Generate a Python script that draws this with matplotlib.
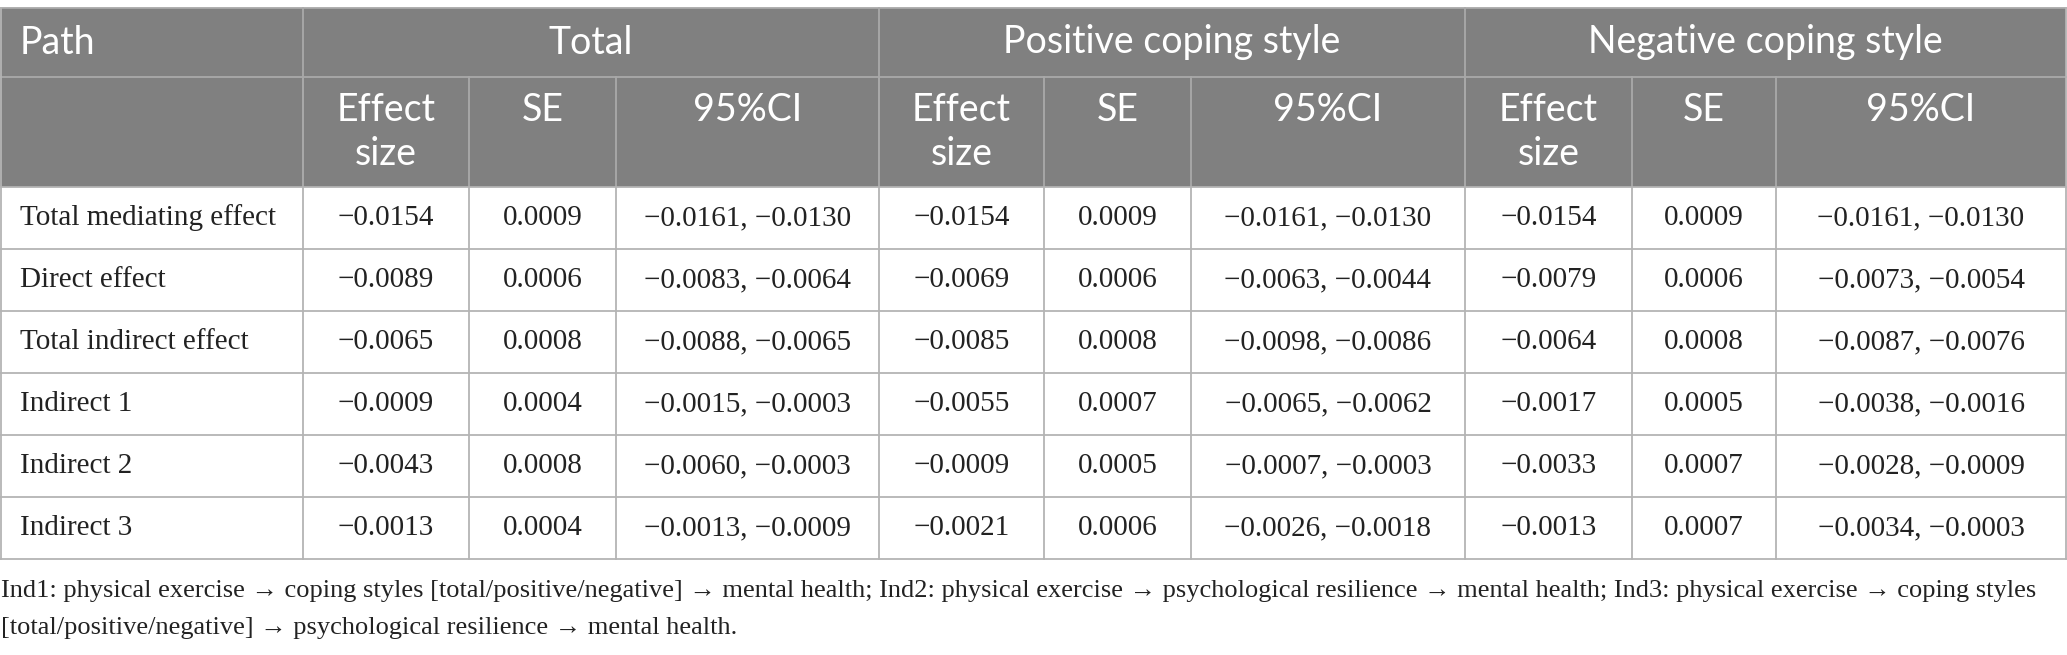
import matplotlib
matplotlib.use("Agg")
import matplotlib.pyplot as plt
from matplotlib.patches import Rectangle

# ---------------- data ----------------
row_labels = ["Total mediating effect", "Direct effect", "Total indirect effect",
              "Indirect 1", "Indirect 2", "Indirect 3"]
groups = ["Total", "Positive coping style", "Negative coping style"]
sub_headers = ["Effect\nsize", "SE", "95%CI"]

total_effect = [-0.0154, -0.0089, -0.0065, -0.0009, -0.0043, -0.0013]
total_se = [0.0009, 0.0006, 0.0008, 0.0004, 0.0008, 0.0004]
total_ci_low = [-0.0161, -0.0083, -0.0088, -0.0015, -0.0060, -0.0013]
total_ci_high = [-0.0130, -0.0064, -0.0065, -0.0003, -0.0003, -0.0009]

pos_effect = [-0.0154, -0.0069, -0.0085, -0.0055, -0.0009, -0.0021]
pos_se = [0.0009, 0.0006, 0.0008, 0.0007, 0.0005, 0.0006]
pos_ci_low = [-0.0161, -0.0063, -0.0098, -0.0065, -0.0007, -0.0026]
pos_ci_high = [-0.0130, -0.0044, -0.0086, -0.0062, -0.0003, -0.0018]

neg_effect = [-0.0154, -0.0079, -0.0064, -0.0017, -0.0033, -0.0013]
neg_se = [0.0009, 0.0006, 0.0008, 0.0005, 0.0007, 0.0007]
neg_ci_low = [-0.0161, -0.0073, -0.0087, -0.0038, -0.0028, -0.0034]
neg_ci_high = [-0.0130, -0.0054, -0.0076, -0.0016, -0.0009, -0.0003]

footnote_lines = [
    "Ind1: physical exercise \u2192 coping styles [total/positive/negative] \u2192 mental health; "
    "Ind2: physical exercise \u2192 psychological resilience \u2192 mental health; "
    "Ind3: physical exercise \u2192 coping styles",
    "[total/positive/negative] \u2192 psychological resilience \u2192 mental health.",
]

# ---------------- layout (pixels) ----------------
W, H = 2067, 655
col_x = [0, 303, 469, 616, 879, 1044, 1191, 1465, 1632, 1776, 2066]
y_top = 8
y_h1 = 77
y_h2 = 187
row_h = 62.0
n_rows = len(row_labels)
row_y = [y_h2 + i * row_h for i in range(n_rows + 1)]

header_bg = "#808080"
header_line = "#a9a9a9"
body_line = "#b4b4b4"
lw = 1.3

sans = ["Lato", "DejaVu Sans"]
serif = ["Liberation Serif", "DejaVu Serif"]
hdr_fs = 27
cell_fs = 21
note_fs = 19


def fmt(v):
    s = f"{v:.4f}"
    return s.replace("-", "\u2212")


fig = plt.figure(figsize=(W / 100, H / 100), dpi=100)
ax = fig.add_axes([0, 0, 1, 1])
ax.set_xlim(0, W)
ax.set_ylim(H, 0)
ax.axis("off")

# header background
ax.add_patch(Rectangle((col_x[0], y_top), col_x[-1] - col_x[0], y_h2 - y_top,
                       facecolor=header_bg, edgecolor="none"))

# header lines
ax.plot([col_x[0], col_x[-1]], [y_top, y_top], color=header_line, lw=lw)
ax.plot([col_x[0], col_x[-1]], [y_h1, y_h1], color=header_line, lw=lw)
for xi in [col_x[1], col_x[4], col_x[7]]:
    ax.plot([xi, xi], [y_top, y_h2], color=header_line, lw=lw)
for xi in col_x[1:-1]:
    ax.plot([xi, xi], [y_h1, y_h2], color=header_line, lw=lw)

# body lines
for yy in row_y:
    ax.plot([col_x[0], col_x[-1]], [yy, yy], color=body_line, lw=lw)
ax.plot([col_x[0] + 0.5, col_x[0] + 0.5], [y_top, row_y[-1]], color=body_line, lw=lw)
ax.plot([col_x[-1], col_x[-1]], [y_top, row_y[-1]], color=body_line, lw=lw)
for xi in col_x[1:-1]:
    ax.plot([xi, xi], [y_h2, row_y[-1]], color=body_line, lw=lw)

# header texts
ax.text(20, (y_top + y_h1) / 2, "Path", color="white", fontsize=hdr_fs,
        family=sans, ha="left", va="center")
for g, name in enumerate(groups):
    x0, x1 = col_x[1 + 3 * g], col_x[4 + 3 * g]
    ax.text((x0 + x1) / 2, (y_top + y_h1) / 2, name, color="white",
            fontsize=hdr_fs, family=sans, ha="center", va="center")
    for s, sub in enumerate(sub_headers):
        cx = (col_x[1 + 3 * g + s] + col_x[2 + 3 * g + s]) / 2
        lines = sub.split("\n")
        for li, t in enumerate(lines):
            ax.text(cx, 110 + li * 44, t, color="white", fontsize=hdr_fs,
                    family=sans, ha="center", va="center")

# body texts
series = [
    (total_effect, total_se, total_ci_low, total_ci_high),
    (pos_effect, pos_se, pos_ci_low, pos_ci_high),
    (neg_effect, neg_se, neg_ci_low, neg_ci_high),
]
for i, lab in enumerate(row_labels):
    cy = (row_y[i] + row_y[i + 1]) / 2
    ax.text(20, cy, lab, color="#222222", fontsize=cell_fs, family=serif,
            ha="left", va="center")
    for g, (eff, se, lo, hi) in enumerate(series):
        vals = [fmt(eff[i]), fmt(se[i]), f"{fmt(lo[i])}, {fmt(hi[i])}"]
        for s, t in enumerate(vals):
            cx = (col_x[1 + 3 * g + s] + col_x[2 + 3 * g + s]) / 2
            ax.text(cx, cy, t, color="#222222", fontsize=cell_fs, family=serif,
                    ha="center", va="center")

# footnote
for li, t in enumerate(footnote_lines):
    ax.text(1, 591 + li * 37, t, color="#222222", fontsize=note_fs, family=serif,
            ha="left", va="center")

fig.savefig("out.png", dpi=100, facecolor="white")
